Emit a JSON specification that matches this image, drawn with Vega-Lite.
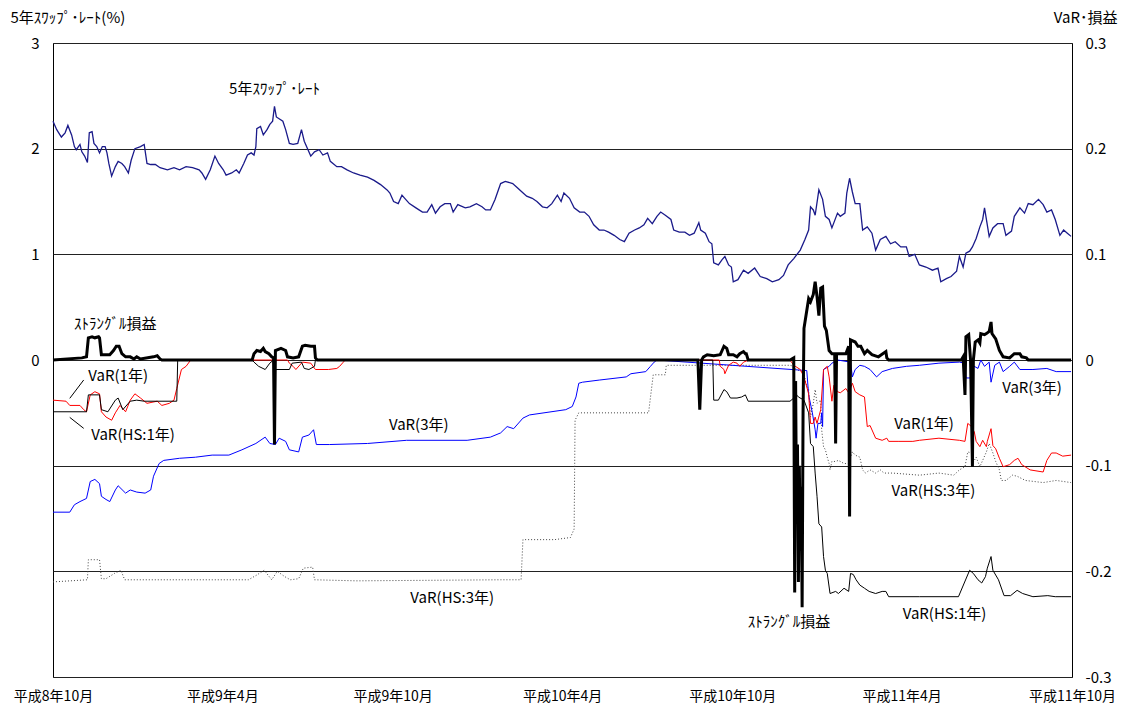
{
  "$schema": "https://vega.github.io/schema/vega-lite/v6.json",
  "width": 1019,
  "height": 634,
  "autosize": {"type": "none"},
  "padding": {"left": 53, "top": 43, "right": 50, "bottom": 31},
  "background": "white",
  "config": {
    "view": {"stroke": "#000", "strokeWidth": 1},
    "font": "Noto Sans CJK JP",
    "axis": {"labelFont": "Noto Sans CJK JP", "titleFont": "Noto Sans CJK JP", "labelColor": "#000", "titleColor": "#000", "titleFontWeight": "normal"}
  },
  "datasets": {
    "swap": [
      {"d":"1996-10-01","v":2.26},{"d":"1996-10-05","v":2.18},{"d":"1996-10-10","v":2.11},{"d":"1996-10-14","v":2.15},{"d":"1996-10-17","v":2.22},{"d":"1996-10-21","v":2.13},{"d":"1996-10-24","v":2.02},{"d":"1996-10-26","v":1.99},{"d":"1996-10-30","v":2.04},{"d":"1996-11-01","v":1.97},{"d":"1996-11-04","v":1.93},{"d":"1996-11-07","v":1.87},{"d":"1996-11-09","v":2.15},{"d":"1996-11-12","v":2.16},{"d":"1996-11-14","v":2.05},{"d":"1996-11-17","v":2.02},{"d":"1996-11-20","v":1.96},{"d":"1996-11-23","v":2.02},{"d":"1996-11-26","v":2.02},{"d":"1996-11-28","v":1.96},{"d":"1996-11-30","v":1.86},
      {"d":"1996-12-03","v":1.74},{"d":"1996-12-07","v":1.83},{"d":"1996-12-10","v":1.88},{"d":"1996-12-14","v":1.86},{"d":"1996-12-17","v":1.83},{"d":"1996-12-21","v":1.77},{"d":"1996-12-24","v":1.89},{"d":"1996-12-28","v":2.0},{"d":"1997-01-03","v":2.02},{"d":"1997-01-07","v":2.04},{"d":"1997-01-10","v":1.86},{"d":"1997-01-14","v":1.85},{"d":"1997-01-19","v":1.85},{"d":"1997-01-24","v":1.82},{"d":"1997-02-01","v":1.8},{"d":"1997-02-08","v":1.82},{"d":"1997-02-14","v":1.8},{"d":"1997-02-21","v":1.83},{"d":"1997-02-28","v":1.82},
      {"d":"1997-03-07","v":1.8},{"d":"1997-03-10","v":1.77},{"d":"1997-03-14","v":1.71},{"d":"1997-03-19","v":1.8},{"d":"1997-03-24","v":1.93},{"d":"1997-03-28","v":1.86},{"d":"1997-04-02","v":1.8},{"d":"1997-04-05","v":1.75},{"d":"1997-04-11","v":1.77},{"d":"1997-04-16","v":1.8},{"d":"1997-04-19","v":1.77},{"d":"1997-04-24","v":1.86},{"d":"1997-04-28","v":1.94},{"d":"1997-05-02","v":1.96},{"d":"1997-05-05","v":1.94},{"d":"1997-05-07","v":2.02},{"d":"1997-05-08","v":2.19},{"d":"1997-05-12","v":2.21},{"d":"1997-05-15","v":2.13},{"d":"1997-05-19","v":2.18},{"d":"1997-05-22","v":2.23},{"d":"1997-05-25","v":2.26},{"d":"1997-05-27","v":2.4},{"d":"1997-05-29","v":2.3},
      {"d":"1997-06-05","v":2.26},{"d":"1997-06-08","v":2.18},{"d":"1997-06-12","v":2.05},{"d":"1997-06-16","v":2.04},{"d":"1997-06-21","v":2.05},{"d":"1997-06-25","v":2.18},{"d":"1997-06-28","v":2.07},{"d":"1997-07-02","v":1.99},{"d":"1997-07-05","v":1.93},{"d":"1997-07-09","v":1.97},{"d":"1997-07-14","v":1.99},{"d":"1997-07-18","v":1.94},{"d":"1997-07-23","v":1.96},{"d":"1997-07-26","v":1.88},{"d":"1997-08-02","v":1.83},{"d":"1997-08-07","v":1.83},{"d":"1997-08-13","v":1.8},{"d":"1997-08-20","v":1.77},{"d":"1997-08-27","v":1.75},{"d":"1997-09-04","v":1.73},{"d":"1997-09-11","v":1.7},{"d":"1997-09-18","v":1.66},{"d":"1997-09-25","v":1.61},{"d":"1997-09-28","v":1.58},
      {"d":"1997-10-02","v":1.5},{"d":"1997-10-07","v":1.48},{"d":"1997-10-11","v":1.56},{"d":"1997-10-14","v":1.53},{"d":"1997-10-19","v":1.48},{"d":"1997-10-26","v":1.44},{"d":"1997-11-02","v":1.4},{"d":"1997-11-07","v":1.4},{"d":"1997-11-12","v":1.47},{"d":"1997-11-16","v":1.39},{"d":"1997-11-21","v":1.45},{"d":"1997-11-26","v":1.48},{"d":"1997-12-02","v":1.48},{"d":"1997-12-05","v":1.4},{"d":"1997-12-10","v":1.47},{"d":"1997-12-18","v":1.44},{"d":"1997-12-23","v":1.45},{"d":"1997-12-30","v":1.48},
      {"d":"1998-01-05","v":1.45},{"d":"1998-01-09","v":1.42},{"d":"1998-01-14","v":1.42},{"d":"1998-01-19","v":1.52},{"d":"1998-01-25","v":1.67},{"d":"1998-01-30","v":1.69},{"d":"1998-02-07","v":1.67},{"d":"1998-02-12","v":1.63},{"d":"1998-02-17","v":1.59},{"d":"1998-02-22","v":1.55},{"d":"1998-02-28","v":1.53},{"d":"1998-03-05","v":1.5},{"d":"1998-03-11","v":1.45},{"d":"1998-03-16","v":1.44},{"d":"1998-03-21","v":1.48},{"d":"1998-03-27","v":1.56},{"d":"1998-03-31","v":1.5},{"d":"1998-04-03","v":1.58},{"d":"1998-04-09","v":1.53},{"d":"1998-04-14","v":1.44},{"d":"1998-04-20","v":1.4},{"d":"1998-04-25","v":1.4},{"d":"1998-04-30","v":1.36},
      {"d":"1998-05-05","v":1.28},{"d":"1998-05-11","v":1.23},{"d":"1998-05-16","v":1.23},{"d":"1998-05-21","v":1.21},{"d":"1998-05-27","v":1.18},{"d":"1998-06-02","v":1.14},{"d":"1998-06-07","v":1.12},{"d":"1998-06-12","v":1.2},{"d":"1998-06-18","v":1.23},{"d":"1998-06-23","v":1.25},{"d":"1998-06-28","v":1.28},{"d":"1998-07-02","v":1.34},{"d":"1998-07-07","v":1.29},{"d":"1998-07-12","v":1.36},{"d":"1998-07-16","v":1.4},{"d":"1998-07-21","v":1.37},{"d":"1998-07-27","v":1.33},{"d":"1998-07-30","v":1.23},{"d":"1998-08-05","v":1.21},{"d":"1998-08-11","v":1.21},{"d":"1998-08-16","v":1.18},{"d":"1998-08-21","v":1.2},{"d":"1998-08-26","v":1.3},{"d":"1998-08-28","v":1.23},
      {"d":"1998-09-02","v":1.2},{"d":"1998-09-06","v":1.12},{"d":"1998-09-09","v":1.1},{"d":"1998-09-11","v":0.92},{"d":"1998-09-16","v":0.9},{"d":"1998-09-20","v":0.95},{"d":"1998-09-23","v":0.98},{"d":"1998-09-27","v":0.9},{"d":"1998-09-30","v":0.88},{"d":"1998-10-02","v":0.74},{"d":"1998-10-07","v":0.76},{"d":"1998-10-13","v":0.85},{"d":"1998-10-18","v":0.82},{"d":"1998-10-25","v":0.87},{"d":"1998-10-31","v":0.79},{"d":"1998-11-07","v":0.77},{"d":"1998-11-13","v":0.74},{"d":"1998-11-20","v":0.76},{"d":"1998-11-25","v":0.8},{"d":"1998-11-30","v":0.9},{"d":"1998-12-06","v":0.96},{"d":"1998-12-13","v":1.04},{"d":"1998-12-18","v":1.14},{"d":"1998-12-22","v":1.23},{"d":"1998-12-24","v":1.45},{"d":"1998-12-27","v":1.42},{"d":"1998-12-29","v":1.37},
      {"d":"1999-01-02","v":1.61},{"d":"1999-01-06","v":1.52},{"d":"1999-01-09","v":1.36},{"d":"1999-01-13","v":1.33},{"d":"1999-01-16","v":1.25},{"d":"1999-01-22","v":1.39},{"d":"1999-01-25","v":1.36},{"d":"1999-01-30","v":1.39},{"d":"1999-02-01","v":1.58},{"d":"1999-02-04","v":1.72},{"d":"1999-02-07","v":1.59},{"d":"1999-02-10","v":1.48},{"d":"1999-02-15","v":1.48},{"d":"1999-02-18","v":1.23},{"d":"1999-02-23","v":1.26},{"d":"1999-02-28","v":1.2},{"d":"1999-03-04","v":1.04},{"d":"1999-03-09","v":1.14},{"d":"1999-03-15","v":1.17},{"d":"1999-03-20","v":1.1},{"d":"1999-03-25","v":1.12},{"d":"1999-03-31","v":1.07},
      {"d":"1999-04-06","v":1.07},{"d":"1999-04-09","v":0.98},{"d":"1999-04-15","v":1.0},{"d":"1999-04-20","v":0.9},{"d":"1999-04-27","v":0.88},{"d":"1999-05-04","v":0.85},{"d":"1999-05-10","v":0.87},{"d":"1999-05-13","v":0.74},{"d":"1999-05-19","v":0.77},{"d":"1999-05-24","v":0.79},{"d":"1999-05-30","v":0.84},{"d":"1999-06-02","v":0.98},{"d":"1999-06-06","v":0.88},{"d":"1999-06-09","v":1.01},{"d":"1999-06-13","v":1.03},{"d":"1999-06-16","v":1.07},{"d":"1999-06-20","v":1.15},{"d":"1999-06-24","v":1.26},{"d":"1999-06-27","v":1.33},{"d":"1999-06-29","v":1.44},
      {"d":"1999-07-04","v":1.17},{"d":"1999-07-08","v":1.25},{"d":"1999-07-13","v":1.29},{"d":"1999-07-19","v":1.29},{"d":"1999-07-22","v":1.18},{"d":"1999-07-28","v":1.22},{"d":"1999-07-31","v":1.36},{"d":"1999-08-06","v":1.44},{"d":"1999-08-11","v":1.39},{"d":"1999-08-15","v":1.48},{"d":"1999-08-20","v":1.47},{"d":"1999-08-26","v":1.52},{"d":"1999-08-31","v":1.47},{"d":"1999-09-04","v":1.4},{"d":"1999-09-09","v":1.42},{"d":"1999-09-13","v":1.33},{"d":"1999-09-18","v":1.18},{"d":"1999-09-22","v":1.23},{"d":"1999-09-26","v":1.2},{"d":"1999-09-30","v":1.17}
    ],
    "swaplabel": [{"d":"1997-05-27","v":2.566,"t":"5年ｽﾜｯﾌﾟ･ﾚｰﾄ"}],
    "var1": [
      {"d":"1996-10-01","v":-0.038},{"d":"1996-10-15","v":-0.039},{"d":"1996-10-19","v":-0.043},{"d":"1996-10-30","v":-0.043},{"d":"1996-11-03","v":-0.047},{"d":"1996-11-06","v":-0.049},{"d":"1996-11-10","v":-0.033},{"d":"1996-11-15","v":-0.03},{"d":"1996-11-20","v":-0.032},{"d":"1996-11-22","v":-0.049},{"d":"1996-11-27","v":-0.054},{"d":"1996-12-03","v":-0.057},{"d":"1996-12-07","v":-0.05},{"d":"1996-12-12","v":-0.043},{"d":"1996-12-18","v":-0.049},{"d":"1996-12-23","v":-0.038},{"d":"1996-12-28","v":-0.032},{"d":"1997-01-03","v":-0.036},{"d":"1997-01-10","v":-0.041},{"d":"1997-01-21","v":-0.039},{"d":"1997-01-26","v":-0.043},{"d":"1997-02-03","v":-0.041},{"d":"1997-02-08","v":-0.038},{"d":"1997-02-11","v":-0.027},{"d":"1997-02-16","v":-0.009},{"d":"1997-02-21","v":-0.006},{"d":"1997-02-26","v":0},
      {"d":"1997-06-10","v":0},{"d":"1997-06-12","v":-0.003},{"d":"1997-06-16","v":-0.006},{"d":"1997-06-19","v":-0.009},{"d":"1997-06-26","v":-0.002},{"d":"1997-07-05","v":-0.003},{"d":"1997-07-10","v":-0.009},{"d":"1997-07-24","v":-0.009},{"d":"1997-08-02","v":-0.008},{"d":"1997-08-05","v":-0.006},{"d":"1997-08-09","v":-0.002},{"d":"1997-08-11","v":0},
      {"d":"1998-09-17","v":0},{"d":"1998-09-18","v":-0.006},{"d":"1998-09-22","v":-0.009},{"d":"1998-09-23","v":-0.013},{"d":"1998-09-27","v":-0.005},{"d":"1998-10-02","v":-0.002},{"d":"1998-10-06","v":-0.003},{"d":"1998-10-09","v":-0.006},{"d":"1998-10-13","v":-0.002},{"d":"1998-10-16","v":-0.001},{"d":"1998-10-20","v":0},{"d":"1998-12-02","v":0},{"d":"1998-12-06","v":-0.005},{"d":"1998-12-13","v":-0.009},{"d":"1998-12-17","v":-0.016},{"d":"1998-12-22","v":-0.032},{"d":"1998-12-24","v":-0.06},{"d":"1998-12-27","v":-0.06},{"d":"1998-12-29","v":-0.054},{"d":"1998-12-31","v":-0.06},
      {"d":"1999-01-04","v":-0.047},{"d":"1999-01-07","v":-0.009},{"d":"1999-01-11","v":-0.006},{"d":"1999-01-13","v":-0.016},{"d":"1999-01-16","v":-0.039},{"d":"1999-01-18","v":-0.024},{"d":"1999-01-22","v":-0.03},{"d":"1999-01-25","v":-0.031},{"d":"1999-01-31","v":-0.027},{"d":"1999-02-03","v":-0.031},{"d":"1999-02-07","v":-0.022},{"d":"1999-02-10","v":-0.03},{"d":"1999-02-15","v":-0.033},{"d":"1999-02-20","v":-0.035},{"d":"1999-02-23","v":-0.063},{"d":"1999-02-26","v":-0.062},{"d":"1999-03-04","v":-0.074},{"d":"1999-03-11","v":-0.076},{"d":"1999-03-16","v":-0.074},{"d":"1999-03-18","v":-0.077},{"d":"1999-03-29","v":-0.077},{"d":"1999-04-13","v":-0.077},{"d":"1999-04-20","v":-0.076},{"d":"1999-05-11","v":-0.074},{"d":"1999-06-02","v":-0.076},{"d":"1999-06-08","v":-0.077},{"d":"1999-06-11","v":-0.06},{"d":"1999-06-15","v":-0.063},{"d":"1999-06-18","v":-0.068},{"d":"1999-06-20","v":-0.077},{"d":"1999-06-24","v":-0.082},{"d":"1999-06-27","v":-0.076},{"d":"1999-07-01","v":-0.082},{"d":"1999-07-02","v":-0.077},{"d":"1999-07-06","v":-0.065},{"d":"1999-07-08","v":-0.081},{"d":"1999-07-11","v":-0.084},{"d":"1999-07-15","v":-0.093},{"d":"1999-07-19","v":-0.101},{"d":"1999-07-26","v":-0.099},{"d":"1999-07-31","v":-0.095},{"d":"1999-08-04","v":-0.093},{"d":"1999-08-08","v":-0.099},{"d":"1999-08-17","v":-0.104},{"d":"1999-08-31","v":-0.106},{"d":"1999-09-04","v":-0.095},{"d":"1999-09-09","v":-0.088},{"d":"1999-09-14","v":-0.088},{"d":"1999-09-21","v":-0.091},{"d":"1999-09-30","v":-0.09}
    ],
    "var3": [
      {"d":"1996-10-01","v":-0.144},{"d":"1996-10-19","v":-0.144},{"d":"1996-10-24","v":-0.137},{"d":"1996-10-30","v":-0.134},{"d":"1996-11-06","v":-0.131},{"d":"1996-11-10","v":-0.115},{"d":"1996-11-15","v":-0.113},{"d":"1996-11-20","v":-0.117},{"d":"1996-11-22","v":-0.129},{"d":"1996-11-27","v":-0.132},{"d":"1996-12-01","v":-0.134},{"d":"1996-12-07","v":-0.123},{"d":"1996-12-10","v":-0.119},{"d":"1996-12-18","v":-0.126},{"d":"1996-12-23","v":-0.123},{"d":"1996-12-30","v":-0.125},{"d":"1997-01-08","v":-0.126},{"d":"1997-01-14","v":-0.123},{"d":"1997-01-17","v":-0.11},{"d":"1997-01-23","v":-0.098},{"d":"1997-01-28","v":-0.095},{"d":"1997-02-14","v":-0.093},{"d":"1997-03-03","v":-0.092},{"d":"1997-03-21","v":-0.09},{"d":"1997-04-08","v":-0.09},{"d":"1997-04-22","v":-0.085},{"d":"1997-05-07","v":-0.079},{"d":"1997-05-17","v":-0.073},{"d":"1997-05-22","v":-0.079},{"d":"1997-05-28","v":-0.08},{"d":"1997-06-01","v":-0.074},{"d":"1997-06-08","v":-0.077},{"d":"1997-06-12","v":-0.085},{"d":"1997-06-22","v":-0.087},{"d":"1997-06-26","v":-0.073},{"d":"1997-07-03","v":-0.071},{"d":"1997-07-08","v":-0.066},{"d":"1997-07-11","v":-0.08},{"d":"1997-07-25","v":-0.08},{"d":"1997-09-04","v":-0.079},{"d":"1997-10-16","v":-0.076},{"d":"1997-12-20","v":-0.076},
      {"d":"1998-01-14","v":-0.073},{"d":"1998-01-25","v":-0.069},{"d":"1998-02-01","v":-0.063},{"d":"1998-02-08","v":-0.065},{"d":"1998-02-18","v":-0.055},{"d":"1998-02-25","v":-0.052},{"d":"1998-04-05","v":-0.047},{"d":"1998-04-12","v":-0.044},{"d":"1998-04-16","v":-0.035},{"d":"1998-04-19","v":-0.022},{"d":"1998-04-23","v":-0.021},{"d":"1998-05-11","v":-0.019},{"d":"1998-06-09","v":-0.016},{"d":"1998-06-14","v":-0.013},{"d":"1998-06-30","v":-0.011},{"d":"1998-07-05","v":-0.006},{"d":"1998-07-09","v":-0.002},{"d":"1998-07-12","v":0},
      {"d":"1998-12-20","v":-0.01},{"d":"1998-12-22","v":-0.033},{"d":"1998-12-26","v":-0.05},{"d":"1998-12-29","v":-0.066},{"d":"1998-12-30","v":-0.074},{"d":"1999-01-01","v":-0.06},{"d":"1999-01-04","v":-0.06},{"d":"1999-01-05","v":-0.05},{"d":"1999-01-06","v":-0.063},{"d":"1999-01-07","v":-0.009},{"d":"1999-01-13","v":-0.006},{"d":"1999-01-16","v":-0.003},{"d":"1999-01-22","v":0},{"d":"1999-02-05","v":-0.002},{"d":"1999-02-07","v":-0.016},{"d":"1999-02-10","v":-0.009},{"d":"1999-02-15","v":-0.005},{"d":"1999-02-20","v":-0.006},{"d":"1999-02-26","v":-0.009},{"d":"1999-03-05","v":-0.016},{"d":"1999-03-11","v":-0.011},{"d":"1999-03-22","v":-0.008},{"d":"1999-04-06","v":-0.006},{"d":"1999-04-20","v":-0.005},{"d":"1999-05-11","v":-0.003},{"d":"1999-06-02","v":-0.002},{"d":"1999-06-08","v":-0.003},{"d":"1999-06-09","v":-0.017},{"d":"1999-06-15","v":-0.017},{"d":"1999-06-16","v":-0.005},{"d":"1999-06-22","v":-0.008},{"d":"1999-06-25","v":0},{"d":"1999-06-29","v":-0.006},{"d":"1999-07-04","v":-0.002},{"d":"1999-07-06","v":-0.021},{"d":"1999-07-10","v":-0.005},{"d":"1999-07-15","v":-0.002},{"d":"1999-07-19","v":-0.011},{"d":"1999-07-26","v":-0.006},{"d":"1999-07-31","v":-0.002},{"d":"1999-08-06","v":-0.009},{"d":"1999-08-20","v":-0.009},{"d":"1999-09-04","v":-0.008},{"d":"1999-09-14","v":-0.011},{"d":"1999-09-30","v":-0.011}
    ],
    "hs1": [
      {"d":"1996-10-01","v":-0.049},{"d":"1996-11-06","v":-0.049},{"d":"1996-11-08","v":-0.033},{"d":"1996-11-20","v":-0.033},{"d":"1996-11-22","v":-0.047},{"d":"1996-11-29","v":-0.049},{"d":"1996-12-07","v":-0.038},{"d":"1996-12-10","v":-0.036},{"d":"1996-12-15","v":-0.047},{"d":"1996-12-23","v":-0.039},{"d":"1996-12-30","v":-0.038},{"d":"1997-01-07","v":-0.039},{"d":"1997-02-11","v":-0.039},{"d":"1997-02-12","v":0},
      {"d":"1997-05-03","v":0},{"d":"1997-05-05","v":-0.002},{"d":"1997-05-10","v":-0.006},{"d":"1997-05-17","v":-0.009},{"d":"1997-05-22","v":-0.003},{"d":"1997-05-26","v":0},{"d":"1997-05-28","v":-0.009},{"d":"1997-06-12","v":-0.009},{"d":"1997-06-15","v":-0.003},{"d":"1997-06-25","v":-0.002},{"d":"1997-06-28","v":-0.008},{"d":"1997-07-03","v":-0.009},{"d":"1997-07-09","v":-0.006},{"d":"1997-07-10","v":0},
      {"d":"1998-09-10","v":0},{"d":"1998-09-11","v":-0.038},{"d":"1998-09-16","v":-0.038},{"d":"1998-09-22","v":-0.028},{"d":"1998-09-25","v":-0.03},{"d":"1998-09-29","v":-0.036},{"d":"1998-10-06","v":-0.036},{"d":"1998-10-11","v":-0.035},{"d":"1998-10-15","v":-0.033},{"d":"1998-10-18","v":-0.039},{"d":"1998-12-02","v":-0.039},{"d":"1998-12-06","v":-0.036},{"d":"1998-12-09","v":-0.033},{"d":"1998-12-11","v":-0.035},{"d":"1998-12-17","v":-0.038},{"d":"1998-12-22","v":-0.05},{"d":"1998-12-24","v":-0.079},{"d":"1998-12-27","v":-0.082},{"d":"1998-12-29","v":-0.107},{"d":"1998-12-31","v":-0.129},
      {"d":"1999-01-02","v":-0.155},{"d":"1999-01-05","v":-0.158},{"d":"1999-01-07","v":-0.186},{"d":"1999-01-09","v":-0.199},{"d":"1999-01-11","v":-0.202},{"d":"1999-01-14","v":-0.221},{"d":"1999-01-20","v":-0.219},{"d":"1999-01-23","v":-0.221},{"d":"1999-01-29","v":-0.216},{"d":"1999-02-03","v":-0.219},{"d":"1999-02-05","v":-0.202},{"d":"1999-02-08","v":-0.203},{"d":"1999-02-11","v":-0.208},{"d":"1999-02-15","v":-0.213},{"d":"1999-02-20","v":-0.216},{"d":"1999-02-25","v":-0.219},{"d":"1999-03-04","v":-0.221},{"d":"1999-03-11","v":-0.219},{"d":"1999-03-15","v":-0.219},{"d":"1999-03-18","v":-0.224},{"d":"1999-04-20","v":-0.224},{"d":"1999-06-01","v":-0.224},{"d":"1999-06-13","v":-0.199},{"d":"1999-06-17","v":-0.202},{"d":"1999-06-22","v":-0.208},{"d":"1999-06-26","v":-0.211},{"d":"1999-06-30","v":-0.205},{"d":"1999-07-02","v":-0.197},{"d":"1999-07-06","v":-0.186},{"d":"1999-07-08","v":-0.199},{"d":"1999-07-14","v":-0.208},{"d":"1999-07-20","v":-0.223},{"d":"1999-07-27","v":-0.223},{"d":"1999-08-03","v":-0.218},{"d":"1999-08-09","v":-0.221},{"d":"1999-08-20","v":-0.224},{"d":"1999-09-05","v":-0.223},{"d":"1999-09-13","v":-0.224},{"d":"1999-09-30","v":-0.224}
    ],
    "hs3": [
      {"d":"1996-10-01","v":-0.21},{"d":"1996-11-07","v":-0.208},{"d":"1996-11-08","v":-0.189},{"d":"1996-11-20","v":-0.189},{"d":"1996-11-22","v":-0.207},{"d":"1996-11-27","v":-0.207},{"d":"1996-12-06","v":-0.202},{"d":"1996-12-13","v":-0.199},{"d":"1996-12-17","v":-0.208},{"d":"1997-01-20","v":-0.208},{"d":"1997-03-21","v":-0.208},{"d":"1997-04-29","v":-0.208},{"d":"1997-05-07","v":-0.204},{"d":"1997-05-16","v":-0.199},{"d":"1997-05-24","v":-0.208},{"d":"1997-05-30","v":-0.2},{"d":"1997-06-07","v":-0.205},{"d":"1997-06-13","v":-0.208},{"d":"1997-06-22","v":-0.207},{"d":"1997-06-27","v":-0.197},{"d":"1997-07-07","v":-0.196},{"d":"1997-07-09","v":-0.208},{"d":"1997-08-23","v":-0.209},{"d":"1998-01-25","v":-0.208},{"d":"1998-02-16","v":-0.208},{"d":"1998-02-18","v":-0.17},{"d":"1998-03-24","v":-0.17},{"d":"1998-04-10","v":-0.168},{"d":"1998-04-14","v":-0.16},{"d":"1998-04-15","v":-0.057},{"d":"1998-04-19","v":-0.05},{"d":"1998-07-03","v":-0.05},{"d":"1998-07-08","v":-0.014},{"d":"1998-07-21","v":-0.014},{"d":"1998-07-22","v":-0.005},{"d":"1998-12-02","v":-0.005},{"d":"1998-12-06","v":-0.006},{"d":"1998-12-09","v":-0.009},{"d":"1998-12-17","v":-0.012},{"d":"1998-12-19","v":-0.022},{"d":"1998-12-22","v":-0.028},{"d":"1998-12-24","v":-0.054},{"d":"1998-12-27","v":-0.041},{"d":"1998-12-29","v":-0.028},{"d":"1998-12-31","v":-0.041},
      {"d":"1999-01-04","v":-0.038},{"d":"1999-01-05","v":-0.066},{"d":"1999-01-07","v":-0.082},{"d":"1999-01-09","v":-0.085},{"d":"1999-01-11","v":-0.092},{"d":"1999-01-13","v":-0.098},{"d":"1999-01-14","v":-0.104},{"d":"1999-01-16","v":-0.096},{"d":"1999-01-20","v":-0.096},{"d":"1999-01-23","v":-0.095},{"d":"1999-01-29","v":-0.098},{"d":"1999-02-03","v":-0.098},{"d":"1999-02-07","v":-0.087},{"d":"1999-02-10","v":-0.09},{"d":"1999-02-15","v":-0.092},{"d":"1999-02-18","v":-0.104},{"d":"1999-02-21","v":-0.107},{"d":"1999-02-26","v":-0.104},{"d":"1999-03-04","v":-0.107},{"d":"1999-03-09","v":-0.104},{"d":"1999-03-13","v":-0.107},{"d":"1999-03-22","v":-0.107},{"d":"1999-04-20","v":-0.109},{"d":"1999-05-11","v":-0.107},{"d":"1999-05-27","v":-0.109},{"d":"1999-06-02","v":-0.104},{"d":"1999-06-08","v":-0.101},{"d":"1999-06-11","v":-0.087},{"d":"1999-06-15","v":-0.088},{"d":"1999-06-16","v":-0.098},{"d":"1999-06-20","v":-0.092},{"d":"1999-06-24","v":-0.101},{"d":"1999-06-27","v":-0.095},{"d":"1999-07-01","v":-0.087},{"d":"1999-07-04","v":-0.079},{"d":"1999-07-08","v":-0.088},{"d":"1999-07-11","v":-0.096},{"d":"1999-07-15","v":-0.104},{"d":"1999-07-17","v":-0.114},{"d":"1999-07-22","v":-0.114},{"d":"1999-07-29","v":-0.109},{"d":"1999-08-03","v":-0.11},{"d":"1999-08-12","v":-0.114},{"d":"1999-08-31","v":-0.116},{"d":"1999-09-14","v":-0.114},{"d":"1999-09-30","v":-0.116}
    ],
    "pnl": [
      {"d":"1996-10-01","v":0},{"d":"1996-11-01","v":0.002},{"d":"1996-11-06","v":0.003},{"d":"1996-11-08","v":0.021},{"d":"1996-11-12","v":0.022},{"d":"1996-11-15","v":0.021},{"d":"1996-11-19","v":0.022},{"d":"1996-11-20","v":0.021},{"d":"1996-11-22","v":0.005},{"d":"1996-12-01","v":0.005},{"d":"1996-12-05","v":0.009},{"d":"1996-12-08","v":0.013},{"d":"1996-12-11","v":0.013},{"d":"1996-12-14","v":0.006},{"d":"1996-12-18","v":0.003},{"d":"1996-12-23","v":0.003},{"d":"1996-12-27","v":0.001},{"d":"1996-12-30","v":0.003},{"d":"1997-01-03","v":0.001},{"d":"1997-01-17","v":0.003},{"d":"1997-01-21","v":0.004},{"d":"1997-01-24","v":0.001},{"d":"1997-01-26","v":0},
      {"d":"1997-05-03","v":0},{"d":"1997-05-05","v":0.006},{"d":"1997-05-08","v":0.009},{"d":"1997-05-12","v":0.008},{"d":"1997-05-15","v":0.011},{"d":"1997-05-17","v":0.008},{"d":"1997-05-21","v":0.006},{"d":"1997-05-24","v":0.003},{"d":"1997-05-26","v":0.002},{"d":"1997-05-27","v":-0.08},{"d":"1997-05-28","v":0.009},{"d":"1997-06-03","v":0.011},{"d":"1997-06-08","v":0.009},{"d":"1997-06-10","v":0.003},{"d":"1997-06-16","v":0.002},{"d":"1997-06-22","v":0.003},{"d":"1997-06-26","v":0.013},{"d":"1997-06-29","v":0.014},{"d":"1997-07-05","v":0.013},{"d":"1997-07-09","v":0.013},{"d":"1997-07-10","v":0.002},{"d":"1997-07-12","v":0},
      {"d":"1998-08-25","v":0},{"d":"1998-08-27","v":-0.047},{"d":"1998-08-29","v":0},{"d":"1998-08-31","v":0.003},{"d":"1998-09-04","v":0.005},{"d":"1998-09-11","v":0.004},{"d":"1998-09-18","v":0.005},{"d":"1998-09-20","v":0.009},{"d":"1998-09-22","v":0.013},{"d":"1998-09-25","v":0.011},{"d":"1998-09-27","v":0.005},{"d":"1998-10-02","v":0.005},{"d":"1998-10-06","v":0.003},{"d":"1998-10-09","v":0.006},{"d":"1998-10-13","v":0.008},{"d":"1998-10-15","v":0.006},{"d":"1998-10-16","v":0.006},{"d":"1998-10-18","v":0},
      {"d":"1998-12-02","v":0},{"d":"1998-12-06","v":0.002},{"d":"1998-12-07","v":-0.22},{"d":"1998-12-08","v":-0.02},{"d":"1998-12-09","v":-0.15},{"d":"1998-12-10","v":-0.08},{"d":"1998-12-11","v":-0.21},{"d":"1998-12-12","v":-0.1},{"d":"1998-12-13","v":-0.18},{"d":"1998-12-14","v":-0.12},{"d":"1998-12-15","v":-0.234},{"d":"1998-12-16","v":-0.05},{"d":"1998-12-17","v":0.03},{"d":"1998-12-22","v":0.058},{"d":"1998-12-24","v":0.055},{"d":"1998-12-27","v":0.062},{"d":"1998-12-29","v":0.074},{"d":"1998-12-31","v":0.06},
      {"d":"1999-01-02","v":0.042},{"d":"1999-01-04","v":0.068},{"d":"1999-01-06","v":0.069},{"d":"1999-01-08","v":0.032},{"d":"1999-01-10","v":0.028},{"d":"1999-01-13","v":0.009},{"d":"1999-01-16","v":0.006},{"d":"1999-01-19","v":0.006},{"d":"1999-01-20","v":-0.079},{"d":"1999-01-21","v":0.006},{"d":"1999-01-31","v":0.006},{"d":"1999-02-03","v":0.013},{"d":"1999-02-04","v":-0.148},{"d":"1999-02-05","v":0.019},{"d":"1999-02-10","v":0.017},{"d":"1999-02-13","v":0.013},{"d":"1999-02-16","v":0.013},{"d":"1999-02-20","v":0.006},{"d":"1999-02-23","v":0.009},{"d":"1999-02-28","v":0.005},{"d":"1999-03-07","v":0.003},{"d":"1999-03-15","v":0.008},{"d":"1999-03-16","v":0.002},{"d":"1999-03-18","v":0},
      {"d":"1999-06-04","v":0},{"d":"1999-06-06","v":0.003},{"d":"1999-06-08","v":-0.033},{"d":"1999-06-09","v":0.022},{"d":"1999-06-12","v":0.024},{"d":"1999-06-14","v":0},{"d":"1999-06-16","v":-0.101},{"d":"1999-06-17","v":0},{"d":"1999-06-19","v":0.017},{"d":"1999-06-22","v":0.019},{"d":"1999-06-24","v":0.016},{"d":"1999-06-25","v":0.025},{"d":"1999-06-29","v":0.024},{"d":"1999-07-01","v":0.025},{"d":"1999-07-04","v":0.027},{"d":"1999-07-06","v":0.036},{"d":"1999-07-07","v":0.025},{"d":"1999-07-11","v":0.02},{"d":"1999-07-15","v":0.009},{"d":"1999-07-19","v":0.003},{"d":"1999-07-26","v":0.002},{"d":"1999-07-31","v":0.006},{"d":"1999-08-06","v":0.006},{"d":"1999-08-08","v":0.003},{"d":"1999-08-13","v":0.002},{"d":"1999-08-15","v":0},{"d":"1999-09-30","v":0}
    ],
    "labels": [
      {"d":"1996-12-07","v":0.034,"t":"ｽﾄﾗﾝｸﾞﾙ損益"},
      {"d":"1996-12-10","v":-0.0152,"t":"VaR(1年)"},
      {"d":"1996-12-26","v":-0.071,"t":"VaR(HS:1年)"},
      {"d":"1997-10-29","v":-0.0616,"t":"VaR(3年)"},
      {"d":"1997-12-04","v":-0.2254,"t":"VaR(HS:3年)"},
      {"d":"1998-12-01","v":-0.248,"t":"ｽﾄﾗﾝｸﾞﾙ損益"},
      {"d":"1999-04-25","v":-0.0606,"t":"VaR(1年)"},
      {"d":"1999-08-19","v":-0.0265,"t":"VaR(3年)"},
      {"d":"1999-05-05","v":-0.124,"t":"VaR(HS:3年)"},
      {"d":"1999-05-17","v":-0.2405,"t":"VaR(HS:1年)"}
    ],
    "leaders": [
      {"d":"1996-10-19","v":-0.0363,"d2":"1996-11-03","v2":-0.0189},
      {"d":"1996-10-19","v":-0.0543,"d2":"1996-11-03","v2":-0.0647}
    ]
  },
  "encoding": {
    "x": {
      "field": "d", "type": "temporal",
      "scale": {"type": "utc", "domain": [{"year":1996,"month":10,"date":1,"utc":true},{"year":1999,"month":10,"date":1,"utc":true}]},
      "axis": {
        "values": [{"year":1996,"month":10,"date":1,"utc":true},{"year":1997,"month":4,"date":1,"utc":true},{"year":1997,"month":10,"date":1,"utc":true},{"year":1998,"month":4,"date":1,"utc":true},{"year":1998,"month":10,"date":1,"utc":true},{"year":1999,"month":4,"date":1,"utc":true},{"year":1999,"month":10,"date":1,"utc":true}],
        "labelExpr": "'平成' + (utcyear(datum.value) - 1988) + '年' + (utcmonth(datum.value) + 1) + '月'",
        "title": null, "grid": false, "ticks": false, "domain": false,
        "labelPadding": 12, "labelFontSize": 14, "labelOverlap": false, "labelFlush": false, "labelBound": false
      }
    }
  },
  "layer": [
    {
      "encoding": {
        "y": {
          "field": "v", "type": "quantitative",
          "scale": {"domain": [-3, 3]},
          "axis": {
            "orient": "left", "values": [0, 1, 2, 3],
            "title": "5年ｽﾜｯﾌﾟ･ﾚｰﾄ(%)", "titleAngle": 0, "titleAlign": "left", "titleBaseline": "middle",
            "titleX": -43, "titleY": -26, "titleFontSize": 15,
            "grid": false, "ticks": false, "domain": false, "labelPadding": 14, "labelFontSize": 15
          }
        }
      },
      "layer": [
        {"data": {"name": "swap"}, "mark": {"type": "line", "color": "#1a1a8a", "strokeWidth": 1.3}},
        {"data": {"name": "swaplabel"}, "mark": {"type": "text", "fontSize": 15, "align": "center", "baseline": "middle", "color": "#000"}, "encoding": {"text": {"field": "t"}}}
      ]
    },
    {
      "encoding": {
        "y": {
          "field": "v", "type": "quantitative",
          "scale": {"domain": [-0.3, 0.3]},
          "axis": {
            "orient": "right", "values": [-0.3, -0.2, -0.1, 0, 0.1, 0.2, 0.3],
            "labelExpr": "toString(datum.value)",
            "title": "VaR･損益", "titleAngle": 0, "titleAlign": "right", "titleBaseline": "middle",
            "titleX": 45, "titleY": -26, "titleFontSize": 15,
            "grid": true, "gridColor": "#222", "gridWidth": 1, "gridOpacity": 1,
            "ticks": false, "domain": false, "labelPadding": 13, "labelFontSize": 15
          }
        }
      },
      "layer": [
        {"data": {"name": "hs3"}, "mark": {"type": "line", "color": "#444", "strokeWidth": 1, "strokeDash": [1, 2]}},
        {"data": {"name": "var3"}, "mark": {"type": "line", "color": "#0000ff", "strokeWidth": 1}},
        {"data": {"name": "var1"}, "mark": {"type": "line", "color": "#ff0000", "strokeWidth": 1}},
        {"data": {"name": "hs1"}, "mark": {"type": "line", "color": "#000", "strokeWidth": 1}},
        {"data": {"name": "pnl"}, "mark": {"type": "line", "color": "#000", "strokeWidth": 3}},
        {"data": {"name": "leaders"}, "mark": {"type": "rule", "color": "#000", "strokeWidth": 1}, "encoding": {"x2": {"field": "d2"}, "y2": {"field": "v2"}}},
        {"data": {"name": "labels"}, "mark": {"type": "text", "fontSize": 15, "align": "center", "baseline": "middle", "color": "#000"}, "encoding": {"text": {"field": "t"}}}
      ]
    }
  ],
  "resolve": {"scale": {"y": "independent"}}
}
